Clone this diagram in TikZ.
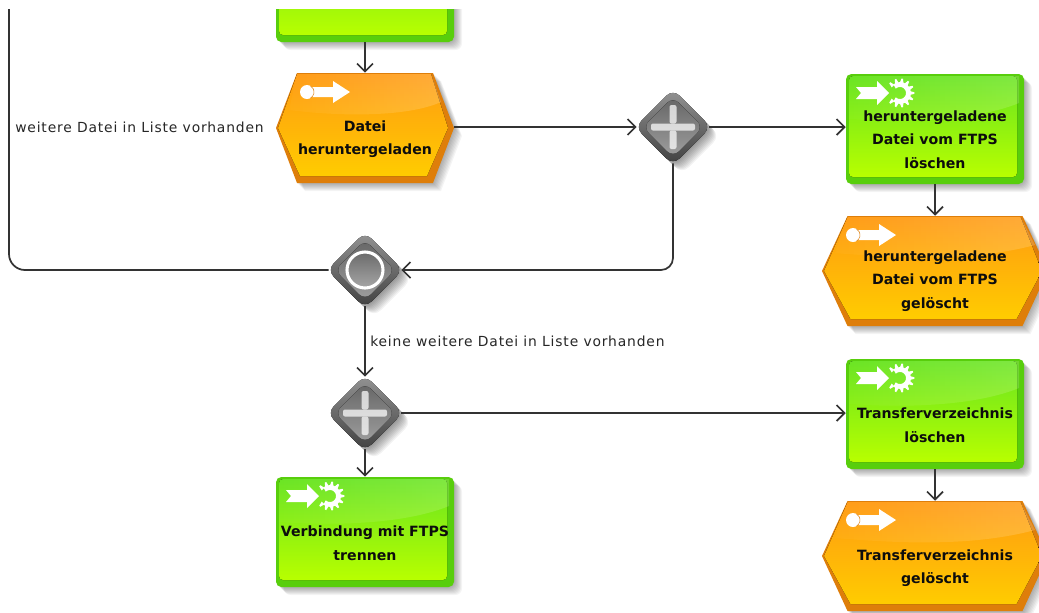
\documentclass[tikz,border=0pt]{standalone}
\usepackage{fontspec}
\setmainfont{DejaVu Sans}
\newfontfamily\lblfont[LetterSpace=6]{DejaVu Sans}
\usetikzlibrary{arrows.meta,shapes.geometric,fadings}
\definecolor{linec}{HTML}{333333}
\definecolor{gout}{HTML}{58CE0C}
\definecolor{gtop}{HTML}{68E420}
\definecolor{gbot}{HTML}{B8FF00}
\definecolor{oout}{HTML}{DE7E0A}
\definecolor{otop}{HTML}{FF9A12}
\definecolor{obot}{HTML}{FFCC00}
\tikzfading[name=glossfade,left color=transparent!92,right color=transparent!45]
\tikzset{
 x=0.75pt,y=-0.75pt,
 conn/.style={draw=linec,line width=1.3pt},
 arr/.style={conn,-{Straight Barb[length=6pt,width=12pt,line width=1.3pt]}},
 lbl/.style={font=\lblfont\fontsize{10.4pt}{12pt}\selectfont,text=black!85,inner sep=0pt},
 boxt/.style={font=\fontsize{10.6pt}{17.6pt}\selectfont\bfseries,text=black!95,align=center,inner sep=0pt},
 shad/.style={fill=black,opacity=0.045,draw=none},
 ico/.style={fill=white,draw=none},
}
\newcommand{\fnicon}{%
 \begin{scope}[shift={(-79,-36)}]
 \foreach \a in {-135,-108,...,135}{\fill[ico] ([shift={(\a-11:10)}]44,0) -- ([shift={(\a-3:14.5)}]44,0) -- ([shift={(\a+3:14.5)}]44,0) -- ([shift={(\a+11:10)}]44,0) -- cycle;}
 \draw[white,line width=3.6pt] (44,0) ++(130:8.5) arc[start angle=130,end angle=-130,radius=8.5];
 \fill[ico] (0,-6) -- (21,-6) -- (21,-12) -- (33,0) -- (21,12) -- (21,6) -- (0,6) -- (5,0) -- cycle;
 \end{scope}}
\newcommand{\evicon}[1]{%
 \begin{scope}[shift={(-#1+31,-36)}]
 \fill[ico] (0,-5) -- (26,-5) -- (26,-11) -- (43,0) -- (26,11) -- (26,5) -- (0,5) -- cycle;
 \fill[ico] (0,0) circle[radius=7];
 \draw[oout,line width=.4pt] (3.5,6.06) arc[start angle=60,end angle=-60,radius=7];
 \end{scope}}
% #1 name #2 cx #3 cy
\newcommand{\fnbox}[3]{%
 \begin{scope}[shift={(#2,#3)}]
 \foreach \d in {1,...,8}{\fill[shad,rounded corners=5pt] (-89+\d,-55+\d) rectangle (89+\d,55+\d);}
 \fill[gout,rounded corners=4pt] (-89,-55) rectangle (89,55);
 \fill[top color=gtop,bottom color=gbot,rounded corners=3pt] (-86,-53) rectangle (82,48);
 \fill[white,opacity=.28,path fading=glossfade] (-86,-53) -- (-86,-10) .. controls (-30,-6) and (40,-8) .. (84,-26) -- (84,-53) -- cycle;
 \fnicon
 \end{scope}
 \node[minimum width=133.5pt,minimum height=82.5pt,inner sep=0pt] (#1) at (#2,#3) {};}
% #1 name #2 cx #3 cy #4 half width #5 half width of the top edge
\newcommand{\evbox}[5]{%
 \begin{scope}[shift={(#2,#3)}]
 \foreach \d in {1,...,8}{\fill[shad] (-#5+\d,-55+\d) -- (#5+\d,-55+\d) -- (#4+\d,\d) -- (#5+\d,55+\d) -- (-#5+\d,55+\d) -- (-#4+\d,\d) -- cycle;}
 \fill[oout] (-#5,-55) -- (#5,-55) -- (#4,0) -- (#5,55) -- (-#5,55) -- (-#4,0) -- cycle;
 \fill[top color=otop,bottom color=obot] (-#5,-54) -- (#5-2,-54) -- (#4-6,0) -- (#5-6,48) -- (-#5+3,48) -- (-#4+2,0) -- cycle;
 \fill[white,opacity=.3,path fading=glossfade] (-#5,-54) -- (-#4+13,-18) .. controls (-30,-12) and (40,-10) .. (#4-13,-26) -- (#5-2,-54) -- cycle;
 \evicon{#4}
 \end{scope}
 \node[minimum width=133.5pt,minimum height=82.5pt,inner sep=0pt] (#1) at (#2,#3) {};}
% gateway frame #1 name #2 cx #3 cy
\newcommand{\gwbase}[3]{%
 \begin{scope}[shift={(#2,#3)}]
 \foreach \d in {1,...,9}{\fill[shad,opacity=.05,rounded corners=7pt] (-38+\d,\d) -- (\d,-38+\d) -- (38+\d,\d) -- (\d,38+\d) -- cycle;}
 \fill[top color=black!42,bottom color=black!75,rounded corners=7pt] (-38,0) -- (0,-38) -- (38,0) -- (0,38) -- cycle;
 \fill[top color=black!60,bottom color=black!38,rounded corners=6pt] (-30,0) -- (0,-30) -- (30,0) -- (0,30) -- cycle;
 \end{scope}
 \node[diamond,minimum width=54pt,minimum height=54pt,inner sep=0pt] (#1) at (#2,#3) {};}
\newcommand{\gwplus}[3]{\gwbase{#1}{#2}{#3}%
 \begin{scope}[shift={(#2,#3)}]
 \fill[white,opacity=.72,rounded corners=1.5pt] (-22,-3.5) rectangle (22,3.5);
 \fill[white,opacity=.72,rounded corners=1.5pt] (-3.5,-22) rectangle (3.5,-3.5);
 \fill[white,opacity=.72,rounded corners=1.5pt] (-3.5,3.5) rectangle (3.5,22);
 \end{scope}}
\newcommand{\gwring}[3]{\gwbase{#1}{#2}{#3}%
 \begin{scope}[shift={(#2,#3)}]
 \draw[white,line width=2.3pt,top color=black!58,bottom color=black!35] (0,0) circle[radius=18];
 \end{scope}}
\begin{document}
\begin{tikzpicture}
\useasboundingbox (0,0) rectangle (1039,612);
\fill[white] (0,0) rectangle (1039,612);
\begin{scope}
\clip (0,9) rectangle (1039,612);
% cut-off box at the top
\begin{scope}[shift={(365,-13)}]
 \foreach \d in {1,...,8}{\fill[shad,rounded corners=5pt] (-89+\d,-55+\d) rectangle (89+\d,55+\d);}
 \fill[gout,rounded corners=4pt] (-89,-55) rectangle (89,55);
 \fill[top color=gtop,bottom color=gbot,rounded corners=3pt] (-86,-53) rectangle (82,48);
\end{scope}
\node[minimum width=133.5pt,minimum height=82.5pt,inner sep=0pt] (top) at (365,-13) {};
\fnbox{delfn}{935}{129}
\fnbox{transfn}{935}{414}
\fnbox{discfn}{365}{532}
\evbox{dlev}{365}{128}{89}{68}
\evbox{delev}{935}{271}{113}{87.5}
\evbox{transev}{935}{556}{113}{87.5}
\gwplus{gw1}{673}{127}
\gwring{gw2}{365}{270}
\gwplus{gw3}{365}{413}
\coordinate (loopend) at (9,9);
% connectors
\draw[arr] (top.south) -- (dlev.north);
\draw[arr] (gw1.west -| dlev.east) -- (gw1.west);
\draw[arr] (gw1.east) -- (gw1.east -| delfn.west);
\draw[arr] (delfn.south) -- (delev.north);
\draw[arr,rounded corners=9pt] (gw1.south) |- (gw2.east);
\draw[conn,rounded corners=12pt] (gw2.west) -| (loopend);
\draw[arr] (gw2.south) -- (gw3.north);
\draw[arr] (gw3.east) -- (gw3.east -| transfn.west);
\draw[arr] (gw3.south) -- (discfn.north);
\draw[arr] (transfn.south) -- (transev.north);
% labels
\node[boxt] (t1) at (365,139) {Datei\\heruntergeladen};
\node[boxt] (t2) at (935,139.5) {heruntergeladene\\Datei vom FTPS\\löschen};
\node[boxt] (t3) at (935,281) {heruntergeladene\\Datei vom FTPS\\gelöscht};
\node[boxt] (t4) at (935,425) {Transferverzeichnis\\löschen};
\node[boxt] (t5) at (935,568) {Transferverzeichnis\\gelöscht};
\node[boxt] (t6) at (365,543) {Verbindung mit FTPS\\trennen};
\node[lbl,anchor=west] (l1) at (15,127) {weitere Datei in Liste vorhanden};
\node[lbl,anchor=west] (l2) at (370,341) {keine weitere Datei in Liste vorhanden};
\end{scope}
\end{tikzpicture}
\end{document}
